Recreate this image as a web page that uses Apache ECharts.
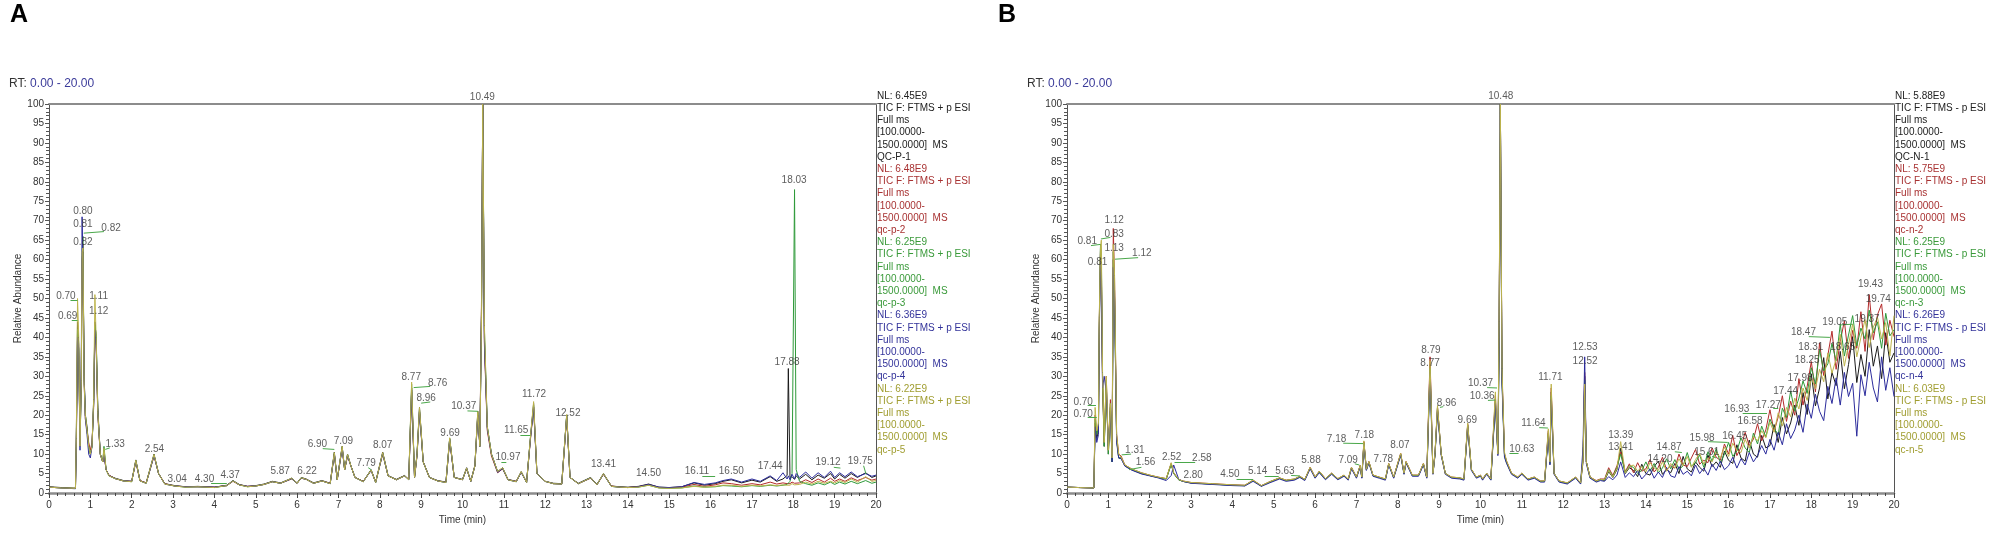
<!DOCTYPE html>
<html>
<head>
<meta charset="utf-8">
<title>TIC overlay QC-P / QC-N</title>
<script src="https://cdn.jsdelivr.net/npm/echarts@6.0.0/dist/echarts.min.js"></script>
<style>
  html, body { margin: 0; padding: 0; background: #fff; }
  #chart { width: 1996px; height: 539px; }
</style>
</head>
<body>
<div id="chart"></div>
<script>
// ---- panel A (positive mode): retention time grid, min
var timeA = [
  0, 0.3, 0.64, 0.66, 0.69, 0.72, 0.75, 0.78, 0.8, 0.82,
  0.85, 0.88, 0.92, 0.96, 1.0, 1.04, 1.08, 1.11, 1.14, 1.18,
  1.24, 1.3, 1.33, 1.38, 1.45, 1.6, 1.8, 2.0, 2.1, 2.2,
  2.35, 2.45, 2.54, 2.65, 2.8, 3.04, 3.3, 3.6, 4.0, 4.3,
  4.45, 4.6, 4.8, 5.0, 5.2, 5.4, 5.6, 5.87, 6.0, 6.1,
  6.22, 6.4, 6.6, 6.8, 6.9, 6.97, 7.09, 7.15, 7.22, 7.3,
  7.4, 7.6, 7.79, 7.9, 8.07, 8.2, 8.4, 8.6, 8.7, 8.77,
  8.84, 8.9, 8.96, 9.05, 9.2, 9.4, 9.6, 9.69, 9.8, 10.0,
  10.1, 10.2, 10.3, 10.37, 10.42, 10.46, 10.49, 10.53, 10.6, 10.7,
  10.85, 10.97, 11.1, 11.3, 11.42, 11.55, 11.65, 11.72, 11.8, 12.0,
  12.2, 12.4, 12.52, 12.6, 12.8, 13.1, 13.25, 13.41, 13.6, 13.8,
  14.0, 14.25, 14.5, 14.75, 15.0, 15.3, 15.6, 15.85, 16.11, 16.3,
  16.5, 16.75, 17.0, 17.2, 17.44, 17.6, 17.75, 17.85, 17.88, 17.92,
  17.97, 18.03, 18.07, 18.15, 18.3, 18.45, 18.6, 18.75, 18.9, 19.0,
  19.12, 19.25, 19.4, 19.55, 19.75, 19.9, 20.0
];
// relative abundance, %
var qcP1 = [
  1.6, 1.4, 1.2, 14, 44, 38, 12, 28, 60, 62,
  30, 20, 17, 12, 10, 12, 24, 44, 40, 22,
  10, 8, 11, 6, 4.5, 3.8, 3.2, 3.0, 8.5, 3.2,
  2.6, 6.5, 10, 5, 2.4, 1.9, 1.6, 1.7, 1.5, 2.0,
  3.2, 2.2, 1.7, 1.9, 2.3, 3.0, 2.6, 3.8, 2.6, 4.0,
  3.6, 2.6, 3.2, 2.5, 10.5, 3.5, 12, 6, 10, 7,
  4, 3.0, 6, 2.8, 10.5, 4.5, 3.5, 4.5, 3.5, 27,
  4, 10, 22, 8, 4, 3.2, 2.8, 14, 4, 3.5,
  6.5, 3, 7, 21, 12, 48, 100, 40, 17, 10,
  5.5, 6.5, 3.5, 3, 5.5, 2.8, 15, 23, 5, 3,
  2.5, 2.4, 20, 4, 2.5, 4, 2.2, 5, 1.8, 1.6,
  1.5, 1.7, 2.3, 1.5, 1.4, 1.6, 2.6, 2.0, 2.4, 3.0,
  3.4, 2.6, 3.3, 2.8, 4.2, 3.0, 3.6, 4.5, 32, 4,
  4.2, 3.5, 4.4, 3.6, 4.8, 3.4, 4.6, 3.8, 5.0, 3.6,
  4.8, 3.8, 5.0, 4.0, 5.2, 4.0, 4.4
];
var qcP2 = [
  1.5, 1.3, 1.2, 12, 40, 35, 13, 30, 58, 64,
  28, 19, 16, 13, 11, 13, 22, 42, 38, 20,
  10, 8, 10, 6, 4.6, 3.7, 3.1, 3.0, 8.0, 3.2,
  2.6, 6.2, 9.5, 5, 2.4, 1.8, 1.6, 1.6, 1.5, 1.9,
  3.0, 2.1, 1.7, 1.8, 2.2, 2.9, 2.5, 3.6, 2.5, 3.8,
  3.5, 2.5, 3.1, 2.5, 10, 3.4, 11.5, 6, 9.5, 7,
  4, 3.0, 5.8, 2.8, 10, 4.4, 3.4, 4.4, 3.5, 26,
  4, 9.5, 21, 8, 4, 3.1, 2.8, 13.5, 4, 3.4,
  6.2, 3, 7, 20, 12, 50, 100, 38, 16, 9.5,
  5.2, 6.2, 3.4, 3, 5.3, 2.8, 14.5, 22, 5, 3,
  2.4, 2.3, 19.5, 4, 2.4, 3.8, 2.1, 4.8, 1.8, 1.5,
  1.4, 1.6, 2.1, 1.4, 1.3, 1.5, 2.2, 1.7, 2.1, 2.6,
  2.4, 2.0, 2.4, 2.1, 2.8, 2.3, 2.6, 2.4, 2.7, 2.4,
  2.8, 2.5, 3.0, 2.6, 3.4, 2.7, 3.6, 2.8, 3.8, 3.0,
  3.6, 3.0, 3.9, 3.2, 4.0, 3.3, 3.6
];
var qcP3 = [
  1.5, 1.3, 1.2, 13, 42, 36, 12, 29, 61, 66,
  29, 20, 16, 12, 10, 12, 23, 43, 41, 21,
  10, 8, 12, 6, 4.4, 3.7, 3.1, 2.9, 8.3, 3.1,
  2.5, 6.3, 9.8, 5, 2.3, 1.8, 1.5, 1.6, 1.4, 1.9,
  3.1, 2.1, 1.6, 1.8, 2.2, 2.9, 2.5, 3.7, 2.5, 3.9,
  3.5, 2.5, 3.1, 2.4, 10.2, 3.4, 11.8, 6, 9.8, 7,
  4, 2.9, 5.9, 2.7, 10.2, 4.4, 3.4, 4.4, 3.4, 28,
  4, 9.8, 21.5, 8, 4, 3.1, 2.7, 14, 4, 3.4,
  6.3, 3, 7, 20.5, 12, 47, 100, 42, 17, 10,
  5.4, 6.4, 3.4, 2.9, 5.4, 2.7, 15, 22.5, 5, 3,
  2.4, 2.3, 20, 4, 2.4, 3.9, 2.1, 4.9, 1.7, 1.5,
  1.4, 1.5, 2.0, 1.3, 1.2, 1.3, 1.8, 1.5, 1.6, 1.9,
  1.8, 1.6, 1.9, 1.7, 2.0, 1.8, 2.0, 2.2, 2.4, 3,
  5, 78, 6, 3.0, 2.4, 2.0, 2.6, 2.1, 2.8, 2.2,
  2.8, 2.3, 3.0, 2.4, 3.2, 2.5, 2.8
];
var qcP4 = [
  1.5, 1.3, 1.1, 12, 40, 37, 11, 32, 71, 60,
  30, 19, 15, 10, 9, 12, 23, 42, 38, 21,
  10, 8, 10, 6, 4.5, 3.7, 3.1, 3.0, 8.2, 3.1,
  2.5, 6.2, 9.6, 5, 2.3, 1.8, 1.6, 1.6, 1.5, 1.9,
  3.1, 2.1, 1.7, 1.8, 2.2, 2.9, 2.5, 3.7, 2.5, 3.8,
  3.5, 2.5, 3.1, 2.4, 10, 3.4, 11.6, 6, 9.6, 7,
  4, 2.9, 5.8, 2.7, 10.2, 4.4, 3.4, 4.4, 3.4, 26.5,
  4, 9.6, 21, 8, 4, 3.1, 2.7, 13.8, 4, 3.4,
  6.3, 3, 7, 20, 12, 46, 100, 39, 16.5, 10,
  5.3, 6.3, 3.4, 2.9, 5.3, 2.7, 14.8, 22, 5, 3,
  2.4, 2.3, 19.8, 4, 2.4, 3.9, 2.1, 4.9, 1.7, 1.5,
  1.4, 1.6, 2.2, 1.5, 1.4, 1.6, 2.7, 2.2, 2.6, 3.2,
  3.6, 2.8, 3.6, 3.0, 4.4, 3.2, 5.2, 3.6, 4.4, 3.4,
  4.8, 3.6, 5.0, 4.0, 5.4, 3.8, 5.2, 4.0, 5.6, 4.0,
  5.2, 4.2, 5.4, 4.2, 5.0, 4.3, 4.6
];
var qcP5 = [
  1.5, 1.3, 1.2, 14, 50, 40, 12, 29, 62, 63,
  28, 20, 16, 12, 10, 12, 24, 51, 40, 21,
  10, 8, 11.5, 6, 4.4, 3.7, 3.1, 2.9, 8.4, 3.1,
  2.5, 6.4, 9.9, 5, 2.3, 1.8, 1.5, 1.6, 1.4, 1.9,
  3.1, 2.1, 1.6, 1.8, 2.2, 2.9, 2.5, 3.8, 2.5, 3.9,
  3.5, 2.5, 3.1, 2.4, 10.4, 3.4, 12, 6, 9.9, 7,
  4, 2.9, 5.9, 2.7, 10.4, 4.4, 3.4, 4.4, 3.4, 28.5,
  4, 9.8, 22, 8, 4, 3.1, 2.7, 14.2, 4, 3.4,
  6.4, 3, 7, 21, 12, 45, 100, 43, 17, 10,
  5.5, 6.5, 3.4, 2.9, 5.5, 2.7, 15.2, 23.5, 5, 3,
  2.4, 2.3, 20.2, 4, 2.4, 3.9, 2.1, 5, 1.7, 1.5,
  1.4, 1.5, 2.0, 1.3, 1.2, 1.3, 1.7, 1.5, 1.7, 2.0,
  2.0, 1.7, 2.0, 1.8, 2.1, 1.9, 2.1, 2.0, 2.2, 2.0,
  2.4, 2.1, 2.6, 2.2, 2.8, 2.3, 3.0, 2.5, 3.0, 2.6,
  3.2, 2.7, 3.6, 2.8, 4.2, 3.0, 3.2
];

// ---- panel B (negative mode)
var timeB = [
  0, 0.3, 0.65, 0.68, 0.72, 0.76, 0.78, 0.81, 0.83, 0.86,
  0.9, 0.95, 1.0, 1.05, 1.09, 1.12, 1.15, 1.2, 1.25, 1.31,
  1.4, 1.56, 1.8, 2.0, 2.2, 2.4, 2.52, 2.58, 2.7, 2.8,
  3.0, 3.5, 4.0, 4.3, 4.5, 4.7, 4.9, 5.14, 5.3, 5.5,
  5.63, 5.75, 5.88, 6.0, 6.1, 6.25, 6.4, 6.55, 6.7, 6.8,
  6.88, 7.0, 7.09, 7.13, 7.18, 7.24, 7.3, 7.4, 7.55, 7.7,
  7.78, 7.9, 8.07, 8.15, 8.2, 8.35, 8.5, 8.62, 8.7, 8.78,
  8.85, 8.9, 8.96, 9.05, 9.15, 9.3, 9.5, 9.6, 9.69, 9.78,
  9.9, 10.0, 10.05, 10.15, 10.25, 10.36, 10.42, 10.45, 10.48, 10.52,
  10.58, 10.63, 10.75, 10.9, 11.0, 11.15, 11.3, 11.45, 11.55, 11.64,
  11.68, 11.71, 11.78, 11.9, 12.1, 12.3, 12.42, 12.48, 12.52, 12.56,
  12.65, 12.8, 12.9, 13.0, 13.1, 13.2, 13.3, 13.39, 13.5, 13.6,
  13.7, 13.8, 13.9, 14.0, 14.1, 14.2, 14.3, 14.4, 14.5, 14.6,
  14.7, 14.8, 14.9, 15.0, 15.1, 15.2, 15.3, 15.4, 15.5, 15.6,
  15.7, 15.8, 15.9, 16.0, 16.1, 16.2, 16.3, 16.4, 16.5, 16.6,
  16.7, 16.8, 16.9, 17.0, 17.1, 17.2, 17.3, 17.4, 17.5, 17.6,
  17.7, 17.8, 17.9, 18.0, 18.1, 18.2, 18.3, 18.4, 18.5, 18.6,
  18.7, 18.8, 18.9, 19.0, 19.1, 19.2, 19.3, 19.4, 19.5, 19.6,
  19.7, 19.8, 19.9, 20.0
];
var qcN1 = [
  1.5, 1.4, 1.3, 18, 14, 16, 42, 63, 58, 28,
  12, 28, 10, 22, 8, 60, 52, 14, 9, 9,
  7, 6, 5, 4.5, 4, 3.6, 7.5, 5, 3.4, 3,
  2.6, 2.3, 2.0, 1.9, 3.2, 1.8, 2.8, 3.8, 3.2, 3.5,
  4.2, 3.4, 6.5, 4, 5.5, 3.6, 5, 3.6, 4.5, 3.5,
  6.5, 4, 7, 4, 13, 6, 8, 4.5, 4, 3.5,
  7.5, 4, 10, 5, 8, 4.5, 4.5, 7.5, 4, 33,
  5, 10, 22, 10, 5, 4, 3.8, 3.5, 17.5, 6,
  4, 4.5, 3.5, 5, 3.5, 24, 10, 40, 100, 30,
  10, 8, 5, 4, 5, 3.5, 4, 3, 3, 15.5,
  8, 26, 5, 3, 2.5, 4, 2.5, 8, 30, 8,
  4, 3, 3.5, 3.2, 5.5, 4, 6, 11.5, 5, 6.5,
  5.8, 4.2, 7.4, 5.0, 4.6, 6.8, 8.2, 4.8, 6.0, 5.2,
  7.6, 5.0, 9.4, 6.2, 5.4, 8.0, 6.6, 5.6, 9.8, 6.8,
  8.0, 6.6, 10.8, 8.4, 7.6, 12.4, 9.0, 8.2, 13.6, 10.0,
  9.2, 14.8, 11.6, 12.2, 17.6, 13.0, 19.4, 15.2, 18.0, 22.6,
  17.4, 25.8, 20.2, 30.6, 22.4, 27.0, 34.8, 24.2, 31.0, 27.6,
  36.4, 26.8, 33.0, 40.2, 28.4, 35.6, 30.0, 42.0, 32.6, 37.8,
  29.4, 41.2, 33.6, 36.0
];
var qcN2 = [
  1.5, 1.4, 1.3, 20, 15, 17, 44, 62, 60, 29,
  13, 30, 11, 24, 9, 68, 55, 15, 10, 9.5,
  7.2, 6.2, 5.2, 4.6, 4.1, 3.7, 7.6, 5.2, 3.5, 3.1,
  2.7, 2.4, 2.1, 2.0, 3.3, 1.9, 2.9, 3.9, 3.3, 3.6,
  4.3, 3.5, 6.6, 4.1, 5.6, 3.7, 5.1, 3.7, 4.6, 3.6,
  6.6, 4.1, 7.1, 4.1, 13.2, 6.1, 8.1, 4.6, 4.1, 3.6,
  7.6, 4.1, 10.2, 5.1, 8.1, 4.6, 4.6, 7.6, 4.1, 35,
  5, 10.2, 22, 10, 5, 4.1, 3.9, 3.6, 17.8, 6.1,
  4.1, 4.6, 3.6, 5.1, 3.6, 25, 10, 42, 100, 31,
  10, 8.2, 5.1, 4.1, 5.1, 3.6, 4.1, 3.1, 3.1, 16,
  8, 27, 5, 3.1, 2.6, 4.1, 2.6, 9, 31, 8,
  4.1, 3.2, 3.6, 3.6, 6.5, 4.5, 7, 10.5, 5.5, 7.5,
  5.2, 7.8, 5.6, 6.2, 8.6, 5.4, 6.6, 9.2, 6.0, 7.0,
  6.4, 10.0, 7.2, 6.8, 9.0, 11.2, 7.4, 8.4, 7.8, 11.6,
  9.2, 8.4, 12.6, 10.0, 14.8, 9.6, 11.8, 15.6, 12.2, 13.8,
  17.8, 13.4, 16.2, 21.4, 15.8, 19.6, 25.0, 18.4, 23.6, 20.0,
  29.4, 22.6, 27.4, 33.8, 26.0, 38.6, 30.2, 35.4, 41.6, 31.8,
  39.0, 44.2, 34.6, 41.8, 37.2, 46.6, 36.4, 51.0, 39.4, 45.8,
  48.6, 38.0, 44.4, 40.2
];
var qcN3 = [
  1.5, 1.4, 1.3, 19, 15, 17, 43, 64, 62, 30,
  12, 29, 10, 23, 8, 62, 50, 14, 9, 9,
  7.1, 6.1, 5.1, 4.5, 4.0, 3.6, 7.4, 5.1, 3.4, 3.0,
  2.6, 2.3, 2.0, 1.9, 3.2, 1.8, 2.8, 3.8, 3.2, 3.5,
  4.2, 3.4, 6.4, 4.0, 5.4, 3.6, 5.0, 3.6, 4.5, 3.5,
  6.4, 4.0, 6.9, 4.0, 12.8, 6.0, 7.9, 4.5, 4.0, 3.5,
  7.4, 4.0, 9.9, 5.0, 7.9, 4.5, 4.5, 7.4, 4.0, 32,
  5, 9.9, 21.5, 10, 5, 4.0, 3.8, 3.5, 17.3, 6.0,
  4.0, 4.5, 3.5, 5.0, 3.5, 23.5, 10, 38, 100, 29,
  9.5, 7.8, 5.0, 4.0, 5.0, 3.5, 4.0, 3.0, 3.0, 15,
  7.5, 25, 5, 3.0, 2.5, 4.0, 2.5, 9.5, 29, 8,
  4.0, 3.0, 3.4, 3.4, 6, 4.2, 6.6, 10, 5.2, 7,
  6.6, 5.0, 5.8, 8.0, 5.6, 7.6, 5.2, 6.4, 8.8, 6.2,
  8.6, 6.0, 7.0, 10.4, 6.8, 7.8, 9.8, 6.6, 10.6, 8.2,
  11.4, 7.8, 10.0, 13.0, 9.4, 10.8, 14.2, 11.6, 10.4, 15.4,
  12.6, 17.2, 14.4, 19.0, 16.6, 15.0, 21.8, 19.4, 26.2, 21.0,
  24.4, 28.8, 25.6, 32.2, 28.0, 36.8, 31.4, 33.2, 38.4, 34.0,
  43.4, 35.2, 40.6, 45.6, 37.8, 42.4, 39.6, 47.0, 41.2, 44.0,
  37.2, 46.2, 40.4, 42.0
];
var qcN4 = [
  1.5, 1.4, 1.3, 17, 13, 15, 40, 60, 57, 27,
  30, 26, 12, 21, 8, 58, 50, 13, 9, 8.8,
  6.9, 5.9, 4.9, 4.4, 3.9, 3.2, 4.5, 7.2, 3.6, 3.0,
  2.5, 2.2, 1.9, 1.8, 3.0, 1.7, 2.6, 3.6, 3.0, 3.3,
  4.0, 3.2, 6.2, 3.8, 5.2, 3.4, 4.8, 3.4, 4.3, 3.3,
  6.2, 3.8, 6.7, 3.8, 12.5, 5.8, 7.7, 4.3, 3.8, 3.3,
  7.2, 3.8, 9.7, 4.8, 7.7, 4.3, 4.3, 7.2, 3.8, 31,
  4.8, 9.7, 21, 9.6, 4.8, 3.8, 3.6, 3.3, 17, 5.8,
  3.8, 4.3, 3.3, 4.8, 3.3, 23, 9.6, 37, 100, 28,
  9.2, 7.6, 4.8, 3.8, 4.8, 3.3, 3.8, 2.8, 2.8, 14.5,
  7.2, 24, 4.8, 2.8, 2.3, 3.8, 2.3, 12, 35, 7.5,
  3.8, 2.8, 3.2, 3.0, 4.2, 3.4, 4.6, 8, 4, 5.2,
  4.2, 5.8, 3.6, 4.8, 6.2, 3.8, 5.4, 4.0, 6.6, 4.4,
  4.0, 6.8, 4.8, 5.6, 4.4, 7.2, 5.0, 6.4, 4.6, 7.4,
  5.8, 8.2, 6.0, 7.0, 9.2, 6.4, 8.8, 7.2, 10.4, 8.0,
  9.6, 12.2, 10.0, 13.8, 11.0, 15.6, 12.4, 17.8, 14.0, 16.2,
  20.0, 15.6, 22.8, 19.2, 25.4, 21.0, 18.6, 27.4, 23.0, 29.6,
  22.6, 31.0, 24.8, 28.2, 14.6, 30.4, 25.0, 33.6, 27.0, 23.4,
  35.0, 26.4, 32.2, 24.8
];
var qcN5 = [
  1.5, 1.4, 1.3, 22, 16, 18, 45, 63, 65, 31,
  13, 30, 11, 23, 9, 64, 56, 15, 10, 9.2,
  7.2, 6.2, 5.2, 4.6, 4.1, 3.7, 7.8, 5.2, 3.5, 3.1,
  2.7, 2.4, 2.1, 2.0, 3.3, 1.9, 2.9, 3.9, 3.3, 3.6,
  4.3, 3.5, 6.6, 4.1, 5.6, 3.7, 5.1, 3.7, 4.6, 3.6,
  6.6, 4.1, 7.1, 4.1, 13.4, 6.1, 8.1, 4.6, 4.1, 3.6,
  7.6, 4.1, 10.2, 5.1, 8.1, 4.6, 4.6, 7.6, 4.1, 34,
  5, 10.2, 22.5, 10, 5, 4.1, 3.9, 3.6, 18, 6.1,
  4.1, 4.6, 3.6, 5.1, 3.6, 26, 10, 44, 100, 32,
  10.5, 8.3, 5.1, 4.1, 5.1, 3.6, 4.1, 3.1, 3.1, 16.5,
  8, 28, 5, 3.1, 2.6, 4.1, 2.6, 8.5, 28, 8,
  4.1, 3.1, 3.5, 3.4, 5.8, 4.1, 6.2, 13.2, 5.2, 6.8,
  7.2, 5.6, 6.8, 5.4, 7.8, 6.4, 5.8, 8.0, 5.6, 7.6,
  6.4, 8.8, 7.0, 9.4, 6.6, 8.6, 10.2, 7.4, 9.0, 8.0,
  10.6, 9.0, 11.8, 9.4, 12.8, 11.0, 10.4, 13.8, 11.6, 14.6,
  13.4, 16.0, 14.2, 18.2, 15.6, 20.6, 17.2, 22.0, 19.6, 24.4,
  21.6, 27.0, 23.8, 29.6, 26.8, 31.8, 28.6, 36.0, 30.8, 34.4,
  40.8, 32.6, 38.2, 43.4, 35.0, 40.0, 44.6, 37.4, 42.6, 45.2,
  39.6, 43.8, 35.2, 45.6
];

// peak annotations: [text, time of label centre, abundance of label centre]
var peaksA = [
  ['10.49', 10.48, 101.8], ['0.80', 0.82, 72.5], ['0.81', 0.82, 69], ['0.82', 1.5, 68],
  ['0.82', 0.82, 64.5], ['0.70', 0.41, 50.6], ['0.69', 0.45, 45.5], ['1.11', 1.2, 50.6],
  ['1.12', 1.2, 46.8], ['8.77', 8.76, 29.8], ['8.76', 9.4, 28.2], ['8.96', 9.12, 24.3],
  ['1.33', 1.6, 12.6], ['2.54', 2.55, 11.3], ['3.04', 3.1, 3.6], ['4.30', 3.76, 3.6],
  ['4.37', 4.38, 4.6], ['5.87', 5.59, 5.6], ['6.22', 6.24, 5.6], ['6.90', 6.49, 12.6],
  ['7.09', 7.12, 13.4], ['7.79', 7.67, 7.7], ['8.07', 8.07, 12.4], ['9.69', 9.7, 15.4],
  ['10.37', 10.03, 22.2], ['11.72', 11.73, 25.3], ['11.65', 11.3, 16.2], ['10.97', 11.1, 9.2],
  ['12.52', 12.55, 20.5], ['13.41', 13.41, 7.5], ['14.50', 14.5, 5.2], ['16.11', 15.67, 5.5],
  ['16.50', 16.5, 5.7], ['17.44', 17.44, 6.8], ['17.88', 17.85, 33.7], ['18.03', 18.02, 80.5],
  ['19.12', 18.84, 7.8], ['19.75', 19.62, 8.2]
];
var peaksB = [
  ['10.48', 10.49, 101.9], ['1.12', 1.14, 70.2], ['0.81', 0.49, 64.8], ['0.83', 1.14, 66.5],
  ['1.13', 1.14, 62.9], ['1.12', 1.81, 61.6], ['0.81', 0.74, 59.3], ['0.70', 0.39, 23.4],
  ['0.70', 0.39, 20.3], ['1.31', 1.64, 10.9], ['1.56', 1.9, 7.9], ['2.52', 2.53, 9.3],
  ['2.58', 3.26, 8.9], ['2.80', 3.05, 4.6], ['4.50', 3.94, 4.9], ['5.14', 4.61, 5.5],
  ['5.63', 5.27, 5.7], ['5.88', 5.9, 8.3], ['7.18', 6.52, 13.9], ['7.18', 7.19, 14.9],
  ['7.09', 6.8, 8.5], ['7.78', 7.65, 8.7], ['8.07', 8.05, 12.2], ['8.79', 8.8, 36.6],
  ['8.77', 8.78, 33.3], ['8.96', 9.18, 23.1], ['9.69', 9.68, 18.8], ['10.37', 10.0, 28.2],
  ['10.36', 10.04, 24.9], ['12.53', 12.53, 37.5], ['12.52', 12.53, 33.8], ['11.71', 11.69, 29.7],
  ['10.63', 11.0, 11.3], ['11.64', 11.28, 17.9], ['13.39', 13.39, 14.9], ['13.41', 13.39, 11.7],
  ['14.87', 14.56, 11.7], ['14.20', 14.34, 8.7], ['15.98', 15.36, 14.1], ['15.61', 15.47, 10.4],
  ['16.45', 16.15, 14.7], ['16.93', 16.2, 21.5], ['16.58', 16.52, 18.5], ['17.27', 16.96, 22.6],
  ['17.44', 17.38, 26.2], ['17.98', 17.73, 29.6], ['18.25', 17.9, 34.2], ['18.31', 17.99, 37.5],
  ['18.47', 17.81, 41.3], ['18.65', 18.76, 37.5], ['19.05', 18.57, 44.0], ['19.37', 19.35, 44.6],
  ['19.43', 19.43, 53.7], ['19.74', 19.62, 49.9]
];

// green leader lines between offset labels and their peaks: [t1, y1, t2, y2]
var leadersA = [
  [0.84, 66.8, 1.33, 67.2], [0.52, 49.6, 0.69, 49.6], [0.55, 44.4, 0.69, 44.4],
  [8.82, 27.1, 9.22, 27.4], [6.62, 11.4, 6.9, 11.2], [10.12, 21.1, 10.37, 21.0],
  [3.92, 2.6, 4.3, 2.6], [1.36, 11.2, 1.47, 11.6], [11.4, 14.9, 11.64, 14.9],
  [10.94, 8.0, 11.06, 8.0], [15.8, 4.3, 16.11, 4.2], [18.98, 6.6, 19.14, 6.4],
  [19.7, 7.0, 19.76, 4.8], [9.0, 23.1, 9.22, 23.4], [7.72, 6.5, 7.79, 6.0]
];
var leadersB = [
  [0.58, 63.6, 0.8, 63.9], [0.82, 65.3, 1.05, 65.7], [1.16, 60.1, 1.72, 60.5],
  [0.5, 22.6, 0.7, 22.6], [0.5, 19.5, 0.72, 19.5], [1.32, 9.8, 1.55, 10.0],
  [1.5, 6.0, 1.8, 6.6], [2.6, 7.8, 3.1, 7.9], [4.1, 3.6, 4.5, 3.6],
  [4.78, 4.2, 5.12, 4.2], [5.42, 4.5, 5.63, 4.4], [6.68, 12.8, 7.16, 12.7],
  [6.96, 7.5, 7.07, 7.2], [9.02, 22.0, 9.1, 22.2], [10.16, 27.1, 10.4, 27.0],
  [10.18, 23.8, 10.36, 23.9], [10.7, 10.1, 10.92, 10.1], [11.42, 16.8, 11.63, 16.7],
  [14.7, 10.6, 14.87, 10.4], [15.5, 13.2, 15.98, 13.0], [16.34, 20.5, 16.93, 20.4],
  [17.08, 21.8, 17.2, 21.9], [17.94, 40.2, 18.45, 40.0], [18.7, 43.2, 19.0, 43.4],
  [15.6, 9.4, 15.7, 9.0]
];

// header block beside each plot
var nlA = ['6.45E9', '6.48E9', '6.25E9', '6.36E9', '6.22E9'];
var samplesA = ['QC-P-1', 'qc-p-2', 'qc-p-3', 'qc-p-4', 'qc-p-5'];
var nlB = ['5.88E9', '5.75E9', '6.25E9', '6.26E9', '6.03E9'];
var samplesB = ['QC-N-1', 'qc-n-2', 'qc-n-3', 'qc-n-4', 'qc-n-5'];

var FONT = '"Liberation Sans", Arial, sans-serif';
var traceColors = ['#1a1a1a', '#b32b2b', '#2f9a3a', '#2c2c9c', '#bdb44c'];
var textColors = ['#222222', '#a83232', '#3a9a3a', '#33339a', '#a09d30'];

function pairs(times, values) {
  var out = [];
  for (var i = 0; i < times.length; i++) {
    out.push([times[i], values[i]]);
  }
  return out;
}

function traceSeries(times, list, xi, yi) {
  return list.map(function (values, i) {
    return {
      type: 'line', xAxisIndex: xi, yAxisIndex: yi,
      showSymbol: false, silent: true, z: 2,
      lineStyle: { color: traceColors[i], width: 1 },
      data: pairs(times, values)
    };
  });
}

function labelSeries(list, xi, yi) {
  return {
    type: 'scatter', xAxisIndex: xi, yAxisIndex: yi,
    symbolSize: 1, clip: false, silent: true, z: 10,
    itemStyle: { color: 'rgba(0,0,0,0)' },
    label: { show: true, position: 'inside', formatter: '{b}', fontSize: 10, color: '#333', fontFamily: FONT },
    data: list.map(function (p) { return { name: p[0], value: [p[1], p[2]] }; })
  };
}

function leaderSeries(list, xi, yi) {
  return {
    type: 'lines', coordinateSystem: 'cartesian2d', xAxisIndex: xi, yAxisIndex: yi,
    silent: true, z: 5,
    lineStyle: { color: '#4aa84a', width: 1, opacity: 1 },
    data: list.map(function (l) { return { coords: [[l[0], l[1]], [l[2], l[3]]] }; })
  };
}

function bottomAxis(grid) {
  return {
    type: 'value', gridIndex: grid, min: 0, max: 20, interval: 1,
    name: 'Time (min)', nameLocation: 'middle', nameGap: 20,
    nameTextStyle: { fontSize: 10, color: '#333', fontFamily: FONT },
    axisLine: { show: true, onZero: false, lineStyle: { color: '#8c8c8c', width: 2.5 } },
    axisTick: { show: true, length: 5, lineStyle: { color: '#444' } },
    minorTick: { show: true, splitNumber: 5, length: 3, lineStyle: { color: '#444' } },
    axisLabel: { fontSize: 10, color: '#333', margin: 7, fontFamily: FONT },
    splitLine: { show: false }
  };
}
function topAxis(grid) {
  return {
    type: 'value', gridIndex: grid, position: 'top', min: 0, max: 20,
    axisLine: { show: true, onZero: false, lineStyle: { color: '#8c8c8c', width: 2 } },
    axisTick: { show: false }, axisLabel: { show: false }, splitLine: { show: false }
  };
}
function leftAxis(grid) {
  return {
    type: 'value', gridIndex: grid, min: 0, max: 100, interval: 5,
    name: 'Relative Abundance', nameLocation: 'middle', nameGap: 25, nameRotate: 90,
    nameTextStyle: { fontSize: 10, color: '#333', fontFamily: FONT },
    axisLine: { show: true, onZero: false, lineStyle: { color: '#555' } },
    axisTick: { show: true, length: 4, lineStyle: { color: '#555' } },
    minorTick: { show: true, splitNumber: 5, length: 3, lineStyle: { color: '#555' } },
    axisLabel: { fontSize: 10, color: '#333', margin: 5, fontFamily: FONT },
    splitLine: { show: false }
  };
}
function rightAxis(grid) {
  return {
    type: 'value', gridIndex: grid, position: 'right', min: 0, max: 100,
    axisLine: { show: true, onZero: false, lineStyle: { color: '#555' } },
    axisTick: { show: false }, axisLabel: { show: false }, splitLine: { show: false }
  };
}

function headerBlock(x, nl, samples, mode) {
  var items = [];
  var k = 0;
  for (var i = 0; i < samples.length; i++) {
    var lines = ['NL: ' + nl[i], 'TIC F: FTMS ' + mode + ' p ESI', 'Full ms',
      '[100.0000-', '1500.0000]  MS', samples[i]];
    for (var j = 0; j < lines.length; j++) {
      items.push({
        type: 'text', left: x, top: 91 + k * 12.2, silent: true,
        style: { text: lines[j], fill: textColors[i], font: '10px ' + FONT }
      });
      k++;
    }
  }
  return items;
}

function rtText(x) {
  return {
    type: 'text', left: x, top: 78, silent: true,
    style: {
      text: '{a|RT:} {b|0.00 - 20.00}', font: '12px ' + FONT,
      rich: { a: { fill: '#333', font: '12px ' + FONT }, b: { fill: '#3b3b9a', font: '12px ' + FONT } }
    }
  };
}

var chart = echarts.init(document.getElementById('chart'));

var option = {
  animation: false,
  backgroundColor: '#fff',
  grid: [
    { left: 49, top: 104, width: 827, height: 389, outerBoundsMode: 'none' },
    { left: 1067, top: 104, width: 827, height: 389, outerBoundsMode: 'none' }
  ],
  xAxis: [bottomAxis(0), topAxis(0), bottomAxis(1), topAxis(1)],
  yAxis: [leftAxis(0), rightAxis(0), leftAxis(1), rightAxis(1)],
  series: []
    .concat(traceSeries(timeA, [qcP1, qcP2, qcP3, qcP4, qcP5], 0, 0))
    .concat(traceSeries(timeB, [qcN1, qcN2, qcN3, qcN4, qcN5], 2, 2))
    .concat([leaderSeries(leadersA, 0, 0), leaderSeries(leadersB, 2, 2)])
    .concat([labelSeries(peaksA, 0, 0), labelSeries(peaksB, 2, 2)]),
  graphic: [
    { type: 'text', left: 10, top: 3, silent: true, style: { text: 'A', font: 'bold 25px ' + FONT, fill: '#000' } },
    { type: 'text', left: 998, top: 3, silent: true, style: { text: 'B', font: 'bold 25px ' + FONT, fill: '#000' } },
    rtText(9), rtText(1027)
  ].concat(headerBlock(877, nlA, samplesA, '+'))
   .concat(headerBlock(1895, nlB, samplesB, '-'))
};

chart.setOption(option);
</script>
</body>
</html>
